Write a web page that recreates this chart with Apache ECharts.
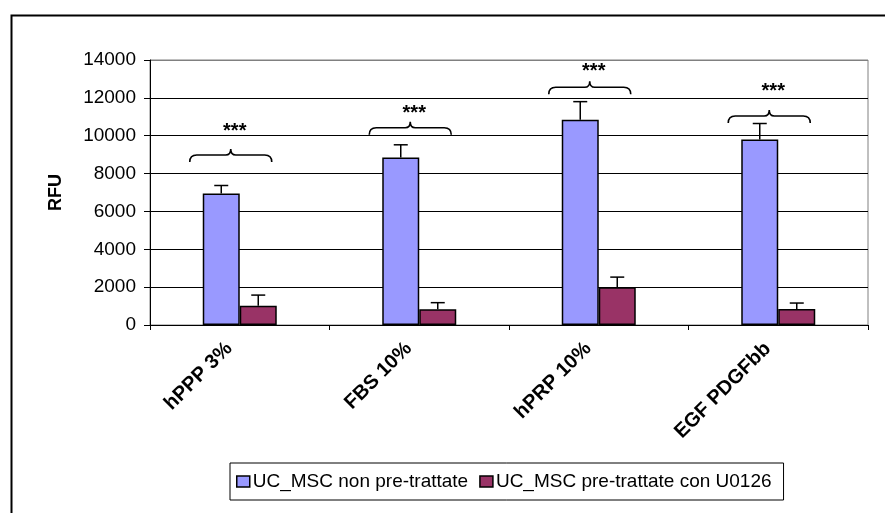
<!DOCTYPE html>
<html>
<head>
<meta charset="utf-8">
<script src="https://cdn.jsdelivr.net/npm/echarts@6/dist/echarts.min.js"></script>
<style>
html,body{margin:0;padding:0;background:#fff;}
#chart{width:885px;height:513px;}
</style>
</head>
<body>
<div id="chart"></div>
<script>
// ---- data ----
const categories = ['hPPP 3%', 'FBS 10%', 'hPRP 10%', 'EGF PDGFbb'];
const seriesNames = ['UC_MSC non pre-trattate', 'UC_MSC pre-trattate con U0126'];
const valuesNonTreated = [6950, 8850, 10850, 9800];
const errorsNonTreated = [420, 670, 950, 845];
const valuesTreated = [1020, 830, 1990, 840];
const errorsTreated = [560, 350, 540, 320];
const braceLevels = [8980, 10420, 12560, 11040];
const starLevels = [10480, 11460, 13650, 12590];
const starLabels = ['***', '***', '***', '***'];
const yTicks = { min: 0, max: 14000, interval: 2000 };

// ---- style ----
const BAR_W = 37;
const FONT = 'Arial, "Liberation Sans", sans-serif';

const chart = echarts.init(document.getElementById('chart'), null, { renderer: 'canvas' });

function errData(vals, errs) {
  return vals.map((v, i) => [i, v, errs[i]]);
}

function errRender(offset) {
  return function (params, api) {
    const c = api.value(0);
    const v = api.value(1);
    const e = api.value(2);
    const p0 = api.coord([c, v]);
    const p1 = api.coord([c, v + e]);
    const x = p0[0] + offset;
    return {
      type: 'group',
      children: [
        { type: 'line', shape: { x1: x, y1: p0[1], x2: x, y2: p1[1] }, style: { stroke: '#000', lineWidth: 1.5 } },
        { type: 'line', shape: { x1: x - 7, y1: p1[1], x2: x + 7, y2: p1[1] }, style: { stroke: '#000', lineWidth: 1.5 } }
      ]
    };
  };
}

function braceRender(params, api) {
  const c = api.value(0);
  const p = api.coord([c, api.value(1)]);
  const s = api.coord([c, api.value(2)]);
  const cx = p[0];
  const y = p[1];
  const x0 = cx - 50, x1 = cx + 32, xm = cx - 9;
  const path =
    'M' + x0 + ' ' + (y + 7) +
    ' Q' + x0 + ' ' + y + ' ' + (x0 + 7) + ' ' + y +
    ' L' + (xm - 5) + ' ' + y +
    ' Q' + xm + ' ' + y + ' ' + xm + ' ' + (y - 6) +
    ' Q' + xm + ' ' + y + ' ' + (xm + 5) + ' ' + y +
    ' L' + (x1 - 7) + ' ' + y +
    ' Q' + x1 + ' ' + y + ' ' + x1 + ' ' + (y + 7);
  return {
    type: 'group',
    children: [
      { type: 'path', shape: { pathData: path }, style: { stroke: '#000', lineWidth: 1.6, fill: null } },
      { type: 'text', x: cx - 5, y: s[1] + 5, style: { text: starLabels[params.dataIndex], fill: '#000', font: 'bold 20px ' + FONT, align: 'center', verticalAlign: 'middle' } }
    ]
  };
}

const option = {
  backgroundColor: '#fff',
  animation: false,
  textStyle: { fontFamily: FONT },
  graphic: [
    { type: 'rect', left: 9, top: 13, shape: { width: 900, height: 600 }, style: { fill: null, stroke: '#000', lineWidth: 2 }, z: -10 }
  ],
  grid: {
    left: 150, right: 17, top: 60, bottom: 188,
    show: true, borderColor: '#808080', borderWidth: 1, backgroundColor: '#fff'
  },
  legend: {
    data: seriesNames,
    left: 230, top: 463,
    orient: 'horizontal',
    itemWidth: 13, itemHeight: 11, itemGap: 11,
    padding: [9, 12, 9, 6],
    borderColor: '#000', borderWidth: 1,
    icon: 'rect',
    itemStyle: { borderColor: '#000', borderWidth: 1.5 },
    textStyle: { fontSize: 19, color: '#000', fontFamily: FONT, padding: [0, 0, 0, -2] }
  },
  xAxis: {
    type: 'category',
    data: categories,
    axisLine: { lineStyle: { color: '#000', width: 1 } },
    axisTick: { show: true, length: 5, lineStyle: { color: '#000' } },
    axisLabel: {
      rotate: 45, interval: 0, margin: 10, color: '#000',
      fontWeight: 'bold', fontSize: 20, fontFamily: FONT,
      padding: [0, 15, 0, 0]
    }
  },
  yAxis: {
    type: 'value',
    min: yTicks.min, max: yTicks.max, interval: yTicks.interval,
    name: 'RFU', nameLocation: 'middle', nameGap: 85, nameRotate: 90,
    nameTextStyle: { fontWeight: 'bold', fontSize: 18, color: '#000', fontFamily: FONT },
    axisLine: { show: true, lineStyle: { color: '#000', width: 1 } },
    axisTick: { show: true, length: 6, lineStyle: { color: '#000' } },
    axisLabel: { margin: 14, fontSize: 19, color: '#000', fontFamily: FONT, formatter: function (v) { return String(v); } },
    splitLine: { show: true, lineStyle: { color: ['#000', '#000', '#000', '#000', '#000', '#000', '#000', '#808080'], width: 1 } }
  },
  series: [
    {
      name: seriesNames[0], type: 'bar', data: valuesNonTreated,
      barWidth: BAR_W, barGap: '0%',
      itemStyle: { color: '#9999FF', borderColor: '#000', borderWidth: 1.5 }
    },
    {
      name: seriesNames[1], type: 'bar', data: valuesTreated,
      barWidth: BAR_W, barGap: '0%',
      itemStyle: { color: '#993366', borderColor: '#000', borderWidth: 1.5 }
    },
    {
      type: 'custom', name: 'errNon', renderItem: errRender(-BAR_W / 2),
      data: errData(valuesNonTreated, errorsNonTreated), z: 5, silent: true,
      encode: { x: 0, y: 1 }
    },
    {
      type: 'custom', name: 'errTr', renderItem: errRender(BAR_W / 2),
      data: errData(valuesTreated, errorsTreated), z: 5, silent: true,
      encode: { x: 0, y: 1 }
    },
    {
      type: 'custom', name: 'brace', renderItem: braceRender,
      data: categories.map((c, i) => [i, braceLevels[i], starLevels[i]]), z: 6, silent: true,
      encode: { x: 0, y: 1 }
    }
  ]
};

chart.setOption(option);
</script>
</body>
</html>
